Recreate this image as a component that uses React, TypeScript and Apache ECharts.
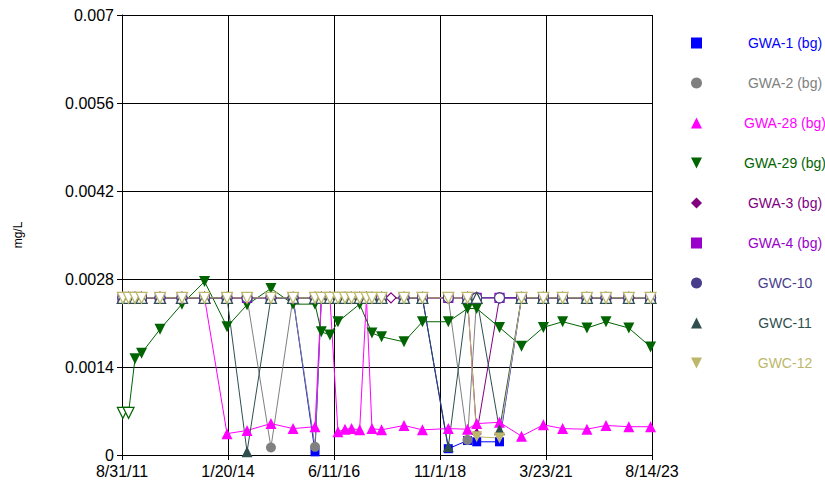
import React, { useEffect, useRef } from "react";
import * as echarts from "echarts";

// Sampling dates (shared by all wells; null = well not sampled that day)
const dates = [
  "2011-09-07", "2011-10-24", "2011-12-16", "2012-02-08", "2012-07-09",
  "2013-01-06", "2013-07-11", "2014-01-12", "2014-06-26", "2015-01-09",
  "2015-07-10", "2016-01-07", "2016-02-28", "2016-05-09", "2016-07-14",
  "2016-09-10", "2016-11-03", "2017-01-09", "2017-03-06", "2017-04-20",
  "2017-07-08", "2017-09-24", "2018-01-09", "2018-06-10", "2019-01-09",
  "2019-06-16", "2019-08-31", "2020-03-06", "2020-09-03", "2021-03-02",
  "2021-08-08", "2022-02-24", "2022-07-31", "2023-02-04", "2023-08-02",
];

// "<x" = non-detect at reporting limit x (hollow marker)
const N = "<0.0025";
const gwa1 = [N, N, N, N, N, N, N, N, N, N, N, 0.00005, N, N, N, N, N, N, N, N, N, null, N, N, 0.0001, 0.00023, 0.00021, 0.00021, N, N, N, N, N, N, N];
const gwa2 = [N, N, N, N, N, N, N, N, N, 0.00012, N, 0.00013, N, N, N, N, N, N, N, N, N, null, N, N, N, 0.00024, N, N, N, N, N, N, N, N, N];
const gwa28 = [N, N, N, N, N, N, N, 0.00034, 0.00039, 0.0005, 0.00042, 0.00045, N, N, 0.00037, 0.00041, 0.00042, 0.0004, N, 0.00042, 0.0004, null, 0.00047, 0.0004, 0.00042, 0.00041, 0.0005, 0.00052, 0.0003, 0.00048, 0.00042, 0.00041, 0.00047, 0.00045, 0.00045];
const gwa29 = ["<0.00067", "<0.00067", 0.00153, 0.00162, 0.002, 0.0024, 0.00276, 0.00204, 0.00239, 0.00265, 0.0024, 0.0024, 0.00196, 0.00191, 0.00212, null, null, 0.0024, null, 0.00194, 0.00188, null, 0.0018, 0.00212, 0.00212, 0.00233, 0.00233, 0.00203, 0.00173, 0.00203, 0.00212, 0.00202, 0.00212, 0.00202, 0.00172];
const gwa3 = [N, N, N, N, N, N, N, N, N, N, N, N, N, N, N, N, N, N, N, N, N, N, N, N, N, N, 0.00034, N, N, N, N, N, N, N, N];
const gwa4 = [N, N, N, N, N, N, N, N, N, N, N, N, N, N, N, N, N, N, N, N, N, null, N, N, N, N, N, N, N, N, N, N, N, N, N];
const gwc10 = [N, N, N, N, N, N, N, N, N, N, N, N, N, N, N, N, N, N, N, N, N, null, N, N, N, N, N, N, N, N, N, N, N, N, N];
const gwc11 = [N, N, N, N, N, N, N, N, 0.00005, N, N, N, N, N, N, N, N, N, N, N, N, null, N, N, 0.00013, N, N, 0.0004, N, N, N, N, N, N, N];
const gwc12 = [N, N, N, N, N, N, N, N, N, N, N, N, N, N, N, N, N, N, N, N, N, null, N, N, N, N, 0.00029, 0.00027, N, N, N, N, N, N, N];

const seriesNames = ["GWA-1 (bg)", "GWA-2 (bg)", "GWA-28 (bg)", "GWA-29 (bg)", "GWA-3 (bg)", "GWA-4 (bg)", "GWC-10", "GWC-11", "GWC-12"];
const seriesValues = [gwa1, gwa2, gwa28, gwa29, gwa3, gwa4, gwc10, gwc11, gwc12];
const seriesColors = ["#0000FF", "#808080", "#FF00FF", "#006400", "#800080", "#9900CC", "#483D8B", "#2F4F4F", "#BDB76B"];
const DOWN = "path://M0,0L2,0L1,2Z";
const seriesSymbols = ["rect", "circle", "triangle", DOWN, "diamond", "rect", "circle", "triangle", DOWN];
const seriesSymbolSizes = [9, 10, 11, 11, 10, 9, 10, 11, 11];

// axis ticks
const xTickDates = ["2011-08-31", "2014-01-20", "2016-06-11", "2018-11-01", "2021-03-23", "2023-08-14"];
const yTicks = [0, 0.0014, 0.0028, 0.0042, 0.0056, 0.007];

const FONT = "'Liberation Sans', Arial, sans-serif";
const DAY = 86400000;
const parseDate = (s: string) => {
  const [y, m, d] = s.split("-").map(Number);
  return Date.UTC(y, m - 1, d);
};
const BASE = parseDate(xTickDates[0]);
const toDays = (s: string) => (parseDate(s) - BASE) / DAY;
const fmtDay = (v: number) => {
  const dt = new Date(BASE + Math.floor(v + 1e-6) * DAY);
  return `${dt.getUTCMonth() + 1}/${dt.getUTCDate()}/${String(dt.getUTCFullYear()).slice(2)}`;
};

export default function App() {
  const ref = useRef<HTMLDivElement>(null);
  useEffect(() => {
    if (!ref.current) return;
    const chart = echarts.init(ref.current, null, { renderer: "svg" });
    const xMax = toDays(xTickDates[xTickDates.length - 1]);
    const xInterval = xMax / (xTickDates.length - 1);

    const series = seriesNames.map((name, si) => {
      const color = seriesColors[si];
      const vals = seriesValues[si];
      const data: any[] = [];
      dates.forEach((d, i) => {
        const v = vals[i];
        if (v === null || v === undefined) return;
        if (typeof v === "string") {
          data.push({
            value: [toDays(d), parseFloat(v.slice(1))],
            itemStyle: { color: "#FFFFFF", borderColor: color, borderWidth: 1.2 },
          });
        } else {
          data.push({ value: [toDays(d), v] });
        }
      });
      return {
        type: "line",
        name,
        data,
        symbol: seriesSymbols[si],
        symbolSize: seriesSymbolSizes[si],
        showSymbol: true,
        itemStyle: { color },
        lineStyle: { color, width: 1 },
        emphasis: { disabled: true },
        silent: true,
        clip: false,
      };
    });

    const rich: any = {};
    seriesColors.forEach((c, i) => {
      rich["s" + i] = { width: 156, align: "center", color: c, fontSize: 14, fontFamily: FONT, lineHeight: 12 };
    });

    chart.setOption({
      animation: false,
      backgroundColor: "#FFFFFF",
      grid: { left: 122, right: 173, top: 15, bottom: 34, containLabel: false },
      xAxis: {
        type: "value",
        min: 0,
        max: xMax,
        interval: xInterval,
        axisLine: { show: true, onZero: false, lineStyle: { color: "#000", width: 1 } },
        axisTick: { show: true, inside: false, length: 5, lineStyle: { color: "#000" } },
        splitLine: { show: true, lineStyle: { color: "#000", width: 1 } },
        axisLabel: { color: "#000", fontSize: 16, fontFamily: FONT, margin: 8, formatter: (v: number) => fmtDay(v) },
      },
      yAxis: {
        type: "value",
        min: yTicks[0],
        max: yTicks[yTicks.length - 1],
        interval: yTicks[1] - yTicks[0],
        name: "mg/L",
        nameLocation: "middle",
        nameRotate: 90,
        nameGap: 98,
        nameTextStyle: { color: "#000", fontSize: 12, fontFamily: FONT },
        axisLine: { show: true, lineStyle: { color: "#000", width: 1 } },
        axisTick: { show: true, inside: false, length: 5, lineStyle: { color: "#000" } },
        splitLine: { show: true, lineStyle: { color: "#000", width: 1 } },
        axisLabel: {
          color: "#000",
          fontSize: 16,
          fontFamily: FONT,
          margin: 8,
          formatter: (v: number) => String(+v.toFixed(4)),
        },
      },
      legend: {
        orient: "vertical",
        left: 691,
        top: 36,
        padding: 0,
        itemWidth: 11,
        itemHeight: 11,
        itemGap: 26,
        selectedMode: false,
        data: seriesNames.map((n, i) => ({ name: n, icon: seriesSymbols[i] })),
        formatter: (name: string) => `{s${seriesNames.indexOf(name)}|${name}}`,
        textStyle: { fontSize: 14, fontFamily: FONT, rich },
      },
      series,
    });
    return () => chart.dispose();
  }, []);
  return (
    <div
      ref={ref}
      style={{ position: "absolute", left: 0, top: 0, width: 825, height: 489, background: "#fff" }}
    />
  );
}
